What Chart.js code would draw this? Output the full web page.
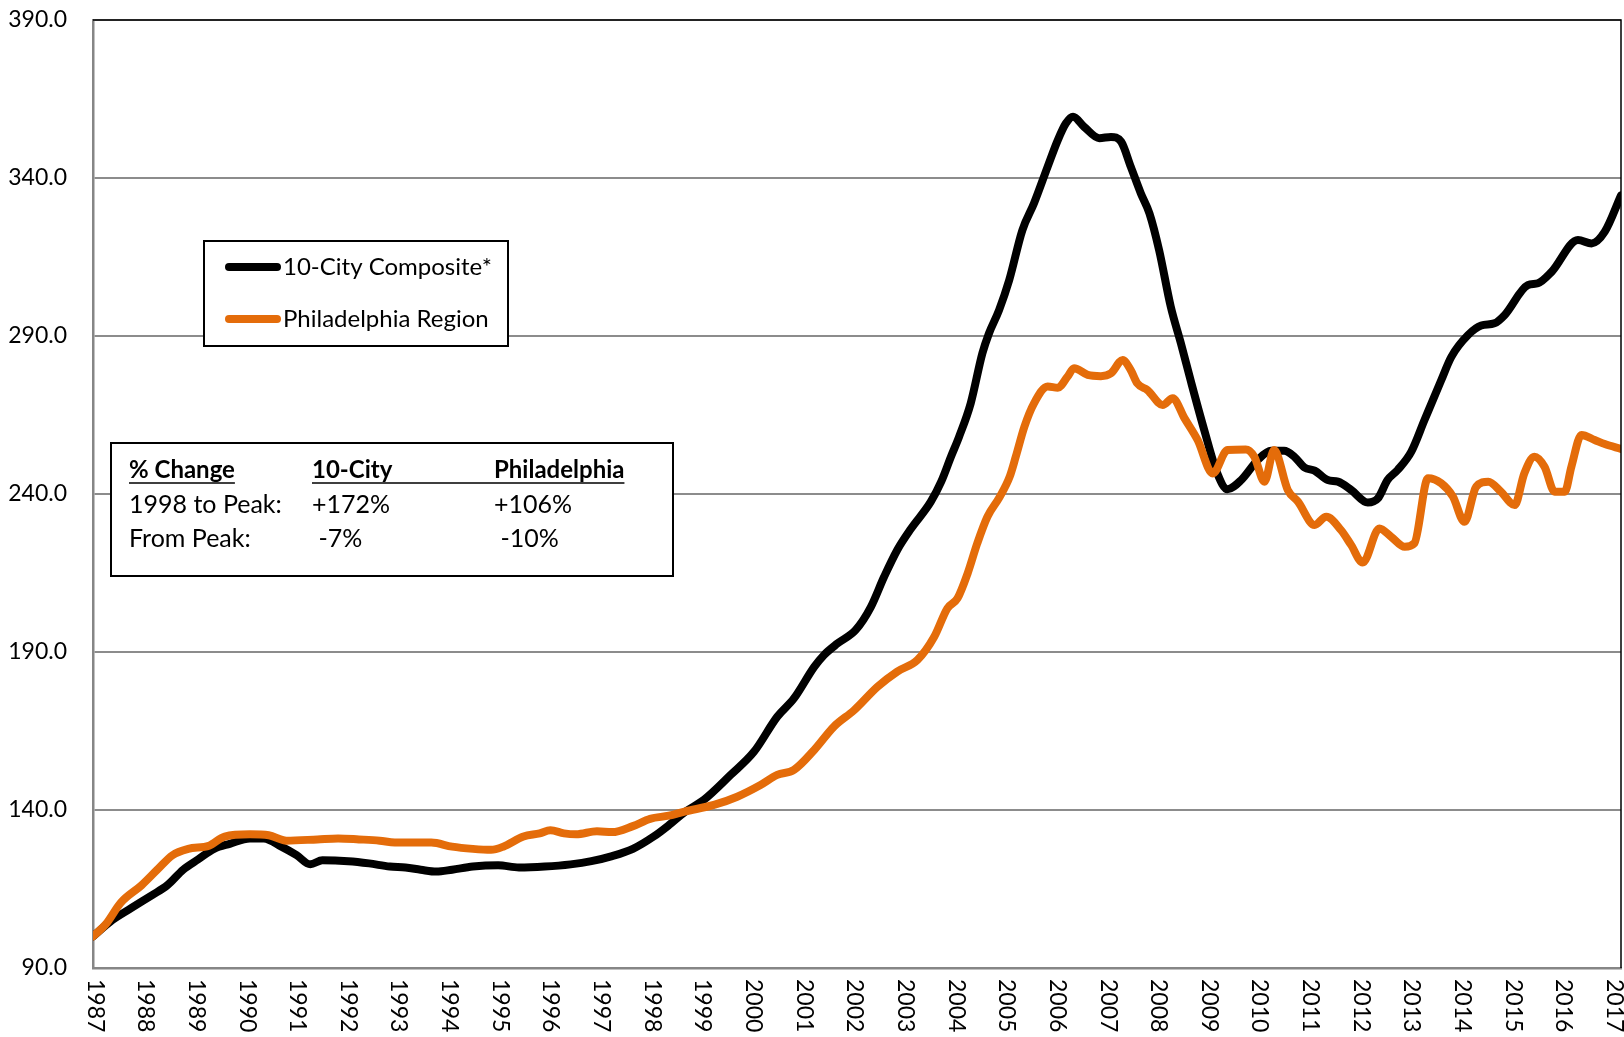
<!DOCTYPE html>
<html>
<head>
<meta charset="utf-8">
<script src="https://cdn.jsdelivr.net/npm/chart.js@4.4.0/dist/chart.umd.min.js"></script>
<style>
  html, body { margin: 0; padding: 0; background: #fff; }
</style>
</head>
<body>
<canvas id="chart" width="1624" height="1037"></canvas>
<script>
// year labels on the x axis
const yearTicks = [1987, 1988, 1989, 1990, 1991, 1992, 1993, 1994, 1995, 1996, 1997, 1998, 1999, 2000, 2001, 2002,
  2003, 2004, 2005, 2006, 2007, 2008, 2009, 2010, 2011, 2012, 2013, 2014, 2015, 2016, 2017];

// S&P/Case-Shiller 10-City composite
const tenCityDates = [1987.00, 1987.35, 1987.76, 1988.16, 1988.47, 1988.78, 1989.08, 1989.39, 1989.70, 1990.10,
  1990.37, 1990.72, 1991.02, 1991.29, 1991.53, 1992.04, 1992.45, 1992.86, 1993.17, 1993.47, 1993.78, 1994.09,
  1994.50, 1995.00, 1995.41, 1995.92, 1996.43, 1996.84, 1997.25, 1997.66, 1998.07, 1998.37, 1998.68, 1999.06,
  1999.59, 2000.05, 2000.51, 2000.84, 2001.24, 2001.43, 2001.70, 2002.06, 2002.36, 2002.62, 2002.88, 2003.15,
  2003.54, 2003.75, 2003.94, 2004.10, 2004.33, 2004.56, 2004.69, 2004.89, 2005.09, 2005.35, 2005.58, 2005.85,
  2006.05, 2006.21, 2006.35, 2006.57, 2006.87, 2007.10, 2007.30, 2007.49, 2007.69, 2007.86, 2008.05, 2008.28,
  2008.48, 2008.68, 2008.94, 2009.20, 2009.40, 2009.67, 2010.00, 2010.26, 2010.52, 2010.72, 2010.92, 2011.12,
  2011.38, 2011.58, 2011.84, 2012.17, 2012.37, 2012.56, 2012.76, 2013.03, 2013.29, 2013.62, 2013.82, 2014.15,
  2014.41, 2014.67, 2014.87, 2015.33, 2015.53, 2015.80, 2016.32, 2016.59, 2016.85, 2017.17];
const tenCityValues = [100, 104.8, 109, 113, 116.2, 121.1, 124.4, 127.7, 129.3, 131,
  131, 128.4, 125.7, 122.8, 124.1, 123.8, 123.1, 122.1, 121.8, 121.1, 120.5, 121.1,
  122.1, 122.5, 121.8, 122.1, 122.8, 123.8, 125.4, 127.7, 131.6, 135.2, 139.3, 143.2,
  151.1, 158.4, 169.5, 175.3, 185.3, 189, 192.7, 197, 204.3, 213.8, 222.3, 229,
  237.5, 244, 251.8, 258.1, 268.7, 284.5, 290.8, 298.2, 307.7, 323.5, 332, 343.6,
  352, 357.3, 359.4, 356.2, 352.6, 353, 351.5, 343.6, 335.1, 328.8, 317.2, 299.3,
  287.7, 275.5, 260.3, 246.5, 241.5, 244.4, 250.8, 253.7, 253.7, 251.8, 248.4, 247.4,
  244.4, 243.9, 241.3, 237.3, 238.6, 244.4, 247.6, 253.4, 263.4, 276, 283.4, 290.3,
  293.3, 294, 296.6, 306.1, 306.7, 310.3, 320.4, 319.3, 323, 334.5];

// Philadelphia region
const phillyDates = [1987.00, 1987.25, 1987.55, 1987.96, 1988.27, 1988.57, 1988.88, 1989.29, 1989.60, 1990.10,
  1990.47, 1990.82, 1991.43, 1991.84, 1992.25, 1992.66, 1992.96, 1993.27, 1993.68, 1994.09, 1994.50, 1994.86,
  1995.10, 1995.50, 1995.82, 1996.03, 1996.30, 1996.54, 1996.95, 1997.25, 1997.66, 1998.00, 1998.37, 1998.68,
  1999.26, 1999.72, 2000.18, 2000.51, 2000.84, 2001.24, 2001.63, 2002.03, 2002.49, 2002.88, 2003.28, 2003.61,
  2003.87, 2004.07, 2004.27, 2004.46, 2004.66, 2004.90, 2005.10, 2005.22, 2005.39, 2005.58, 2005.85, 2006.05,
  2006.24, 2006.37, 2006.64, 2006.90, 2007.10, 2007.33, 2007.49, 2007.62, 2007.82, 2008.12, 2008.32, 2008.55,
  2008.81, 2009.11, 2009.40, 2009.76, 2009.93, 2010.13, 2010.32, 2010.59, 2010.79, 2011.12, 2011.35, 2011.64,
  2011.84, 2012.07, 2012.40, 2012.63, 2012.90, 2013.09, 2013.36, 2013.62, 2013.85, 2014.08, 2014.31, 2014.55,
  2014.80, 2015.07, 2015.26, 2015.46, 2015.66, 2015.86, 2016.06, 2016.19, 2016.39, 2016.65, 2016.85, 2017.17];
const phillyValues = [100, 103.8, 110.7, 116.2, 121.1, 125.7, 127.7, 128.7, 131.6, 132.3,
  132, 130.3, 130.7, 131, 130.7, 130.3, 129.7, 129.7, 129.7, 128.4, 127.7, 127.4,
  128.4, 131.6, 132.6, 133.6, 132.6, 132.3, 133.3, 133, 134.9, 137.2, 138.2, 139.5,
  141.6, 144.2, 147.9, 151.1, 152.7, 159, 166.4, 171.6, 179, 183.8, 187.5, 194.8,
  203.8, 207, 214.9, 224.4, 232.8, 239, 245.5, 251.8, 261.3, 268.7, 274, 273.6,
  277.1, 279.8, 277.7, 277.3, 278.2, 282.4, 279.2, 275, 272.9, 268.2, 270.3, 264,
  257.1, 246.5, 253.9, 254.1, 251.8, 243.9, 253.9, 241.3, 237.6, 230.2, 232.8, 228.6,
  223.9, 218.3, 229.1, 226.5, 223.3, 224.4, 245, 243.4, 239.2, 231.2, 242.3, 243.9,
  240.7, 236.5, 246.5, 251.8, 248.6, 240.7, 240.7, 248.6, 258.7, 257.1, 255.8, 254.3];

const seriesNames = ['10-City Composite*', 'Philadelphia Region'];
const seriesColors = ['#000000', '#E46C0A'];

const statHeader = ['% Change', '10-City', 'Philadelphia'];
const statRows = [
  ['1998 to Peak:', '+172%', '+106%'],
  ['From Peak:', ' -7%', ' -10%']
];

const FONT = 'Lato, "Open Sans", sans-serif';

function toPoints(dates, values) {
  return dates.map((d, i) => ({ x: d, y: values[i] }));
}

// frame, rotated year labels, legend box and the % change table
const overlay = {
  id: 'overlay',
  afterDraw(chart) {
    const { ctx, chartArea: a, scales } = chart;
    ctx.save();

    ctx.strokeStyle = '#000';
    ctx.lineWidth = 1.5;
    ctx.beginPath();
    ctx.moveTo(a.left, a.top);
    ctx.lineTo(a.right, a.top);
    ctx.lineTo(a.right, a.bottom);
    ctx.stroke();

    ctx.fillStyle = '#000';
    ctx.font = '23px ' + FONT;
    ctx.textAlign = 'left';
    ctx.textBaseline = 'middle';
    yearTicks.forEach(yr => {
      const px = scales.x.getPixelForValue(yr);
      ctx.save();
      ctx.translate(px + 2, a.bottom + 11);
      ctx.rotate(Math.PI / 2);
      ctx.fillText(String(yr), 0, 0);
      ctx.restore();
    });

    // legend
    ctx.fillStyle = '#fff';
    ctx.fillRect(204, 241, 304, 105);
    ctx.strokeStyle = '#000';
    ctx.lineWidth = 2;
    ctx.strokeRect(204, 241, 304, 105);
    ctx.lineCap = 'round';
    ctx.textBaseline = 'middle';
    ctx.font = '24px ' + FONT;
    [267, 319].forEach((ly, i) => {
      ctx.strokeStyle = seriesColors[i];
      ctx.lineWidth = 8;
      ctx.beginPath();
      ctx.moveTo(229, ly);
      ctx.lineTo(277, ly);
      ctx.stroke();
      ctx.fillStyle = '#000';
      ctx.fillText(seriesNames[i], 283, ly);
    });

    // % change table
    ctx.fillStyle = '#fff';
    ctx.fillRect(111, 443, 562, 133);
    ctx.strokeStyle = '#000';
    ctx.lineWidth = 2;
    ctx.lineCap = 'butt';
    ctx.strokeRect(111, 443, 562, 133);
    const cols = [129, 312, 494];
    ctx.fillStyle = '#000';
    ctx.textBaseline = 'alphabetic';
    ctx.font = 'bold 24px ' + FONT;
    statHeader.forEach((t, i) => ctx.fillText(t, cols[i], 478));
    ctx.lineWidth = 1.6;
    ctx.beginPath();
    ctx.moveTo(cols[0], 483);
    ctx.lineTo(cols[0] + ctx.measureText(statHeader[0]).width, 483);
    ctx.moveTo(cols[1], 483);
    ctx.lineTo(cols[2] + ctx.measureText(statHeader[2]).width, 483);
    ctx.stroke();
    ctx.font = '25px ' + FONT;
    statRows.forEach((row, r) => {
      row.forEach((t, i) => ctx.fillText(t, cols[i], 513 + r * 34));
    });

    ctx.restore();
  }
};

new Chart(document.getElementById('chart'), {
  type: 'line',
  data: {
    datasets: [
      {
        label: seriesNames[0],
        data: toPoints(tenCityDates, tenCityValues),
        borderColor: seriesColors[0],
        borderWidth: 8,
        pointRadius: 0,
        cubicInterpolationMode: 'monotone',
        borderCapStyle: 'round',
        borderJoinStyle: 'round',
        order: 1
      },
      {
        label: seriesNames[1],
        data: toPoints(phillyDates, phillyValues),
        borderColor: seriesColors[1],
        borderWidth: 8,
        pointRadius: 0,
        cubicInterpolationMode: 'monotone',
        borderCapStyle: 'round',
        borderJoinStyle: 'round',
        order: 0
      }
    ]
  },
  options: {
    responsive: false,
    animation: false,
    layout: { padding: { top: 20, right: 3, bottom: 0, left: 0 } },
    plugins: { legend: { display: false }, tooltip: { enabled: false } },
    scales: {
      x: {
        type: 'linear',
        min: 1987,
        max: 2017.17,
        grid: { display: false },
        border: { display: true, color: '#868686', width: 2.5 },
        ticks: { display: false },
        afterFit: s => { s.height = 69; }
      },
      y: {
        min: 90,
        max: 390,
        ticks: {
          stepSize: 50,
          callback: v => v.toFixed(1),
          color: '#000',
          font: { family: FONT, size: 23 },
          padding: 26
        },
        grid: { color: '#8c8c8c', lineWidth: 2, drawTicks: false },
        border: { color: '#868686', width: 2.5 },
        // the tick padding would otherwise push the plot top down
        afterFit: s => { s.width = 93; s.paddingTop = 12; s.paddingBottom = 12; }
      }
    }
  },
  plugins: [overlay]
});
</script>
</body>
</html>
